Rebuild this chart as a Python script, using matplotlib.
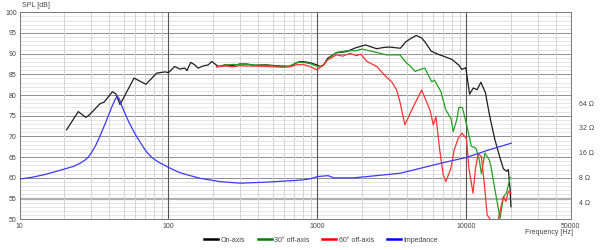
import numpy as np
import matplotlib.pyplot as plt
from matplotlib.lines import Line2D
from matplotlib.ticker import FixedLocator, NullFormatter, NullLocator

plt.rcParams['font.family'] = ['Liberation Sans', 'DejaVu Sans']

# on-axis SPL
on_f = [20.7, 24.8, 27.9, 29.4, 34.7, 37, 42, 44.3, 47.3, 58.7, 70.6, 83.3, 95, 100,
        110, 119, 129, 133, 141, 150, 158, 170, 185, 195, 216, 240, 270, 300, 335, 380,
        450, 520, 586, 650, 700, 743, 800, 890, 990, 1040, 1100, 1170, 1340, 1570, 1800,
        2100, 2490, 2800, 3030, 3600, 3900, 4200, 4600, 5000, 5300, 5800, 6500, 7000,
        8000, 8900, 9300, 9900, 10500, 11100, 11800, 12500, 13400, 14300, 15500, 16800,
        17700, 18600, 19100, 19600, 19900]
on_db = [71.6, 76.0, 74.6, 75.2, 77.9, 78.3, 80.8, 80.3, 77.7, 84.1, 82.6, 85.3, 85.6, 85.4,
         86.9, 86.3, 86.5, 85.9, 87.9, 87.3, 86.5, 87.0, 87.3, 88.1, 86.9, 87.3, 87.1, 87.5, 87.5, 87.2,
         87.3, 87.1, 87.0, 86.9, 87.5, 88.0, 88.1, 87.8, 87.3, 86.9, 87.3, 88.9, 90.2, 90.5, 91.4,
         92.1, 91.2, 91.5, 91.6, 91.3, 92.8, 93.6, 94.4, 93.8, 92.7, 90.6, 89.8, 89.4,
         88.6, 87.2, 86.2, 86.6, 80.2, 81.7, 81.3, 83.1, 80.6, 75.0, 69.3, 64.8,
         62.2, 61.6, 62.0, 57.5, 53.0]

# 30 deg off-axis
off30_f = [210, 240, 270, 300, 340, 380, 450, 520, 586, 650, 720, 800, 890, 990, 1040, 1100,
           1170, 1340, 1570, 1800, 2000, 2490, 2900, 3580, 3970, 4180, 4520, 4910, 5260,
           5840, 6100, 6740, 7270, 7860, 8150, 8600, 8900, 9390, 9720, 10000, 10790, 11070,
           11600, 12200, 12600, 13300, 14240, 14600, 15400, 16800, 17700, 18600, 19600, 19900]
off30_db = [86.8, 87.2, 87.4, 87.3, 87.4, 87.2, 87.2, 87.0, 86.9, 87.0, 87.8, 87.9, 87.6, 87.0, 86.8, 87.2,
            88.6, 90.3, 90.7, 90.7, 91.1, 90.3, 89.7, 89.7, 87.7, 87.1, 85.7, 86.2, 86.5,
            83.2, 83.6, 80.8, 76.4, 74.4, 71.2, 74.0, 77.0, 77.0, 74.8, 73.0, 67.6, 67.5,
            67.1, 64.3, 61.0, 66.0, 64.3, 62.7, 57.9, 50.2, 55.3, 56.5, 59.9, 60.0]

# 60 deg off-axis
off60_f = [210, 240, 270, 300, 340, 380, 450, 520, 586, 650, 720, 800, 890, 990, 1100, 1170,
           1340, 1480, 1650, 1830, 1950, 2150, 2500, 2800, 3150, 3400, 3580, 3860, 4400,
           5000, 5690, 5990, 6240, 6600, 6980, 7270, 7860, 8270, 8790, 9320, 10000, 10380,
           11070, 11500, 12000, 12600, 13200, 13770, 14600, 16300, 17700, 18400, 19100, 19900]
off60_db = [86.8, 87.0, 86.8, 87.1, 87.0, 87.0, 86.9, 86.8, 86.7, 86.8, 87.3, 87.4, 86.9, 86.1, 87.3, 88.5,
            89.7, 89.4, 90.1, 89.5, 89.9, 88.1, 86.9, 84.9, 83.2, 81.2, 78.3, 72.8, 77.2,
            81.2, 76.4, 72.8, 74.8, 67.0, 60.7, 59.1, 62.3, 66.7, 69.5, 70.8, 69.5, 62.3,
            56.3, 62.3, 65.9, 65.1, 58.3, 51.0, 49.8, 49.8, 55.5, 54.3, 56.7, 56.3]

# impedance in ohm
imp_f = [10, 12, 14.4, 17, 20.7, 23, 25.5, 27.5, 28.9, 30.5, 32.5, 34.6, 37, 39.5, 41.5,
         42.7, 43.7, 44.7, 45.6, 46.5, 47.5, 48.4, 50, 51.9, 54, 56, 58.5, 61, 64, 68, 72,
         77.1, 85, 100, 118, 140, 163, 222, 303, 454, 763, 900, 1000, 1180, 1285, 1745,
         2480, 3600, 7100, 10000, 14000, 20000]
imp_ohm = [7.73, 8.1, 8.67, 9.4, 10.4, 11.0, 12.0, 13.1, 14.2, 16.3, 19.8, 25.3, 33.7, 45, 56.7,
           63.7, 69.8, 74.8, 76.6, 73.1, 66.7, 60.8, 52.3, 45, 38.2, 33.7, 29.0, 25.3, 22.1, 18.6, 16.1,
           14.2, 12.5, 10.7, 9.3, 8.5, 7.9, 7.2, 6.9, 7.1, 7.5, 7.8, 8.3, 8.5, 8.0, 8.0,
           8.5, 9.1, 12.3, 14.1, 17.3, 21]

ohm_ticks = [4, 8, 16, 32, 64]
freq_ticks = [10, 100, 1000, 10000, 50000]

txt = '#444444'

fig = plt.figure(figsize=(6, 2.5), dpi=100)
ax = fig.add_axes([0.0325, 0.123, 0.9185, 0.828])

ax.set_xscale('log')
ax.set_xlim(10, 50000)
ax.set_ylim(50, 100)

# grid
for y in range(51, 100):
    if y % 5:
        ax.axhline(y, color='#e0e0e0', lw=0.6, zorder=0)
for y in range(55, 100, 5):
    ax.axhline(y, color='#8e8e8e', lw=0.7, zorder=0)
ax.axhline(55, color='#b0b0b0', lw=1.6, zorder=0)
for dec in [10, 100, 1000, 10000]:
    for m in range(2, 10):
        f = dec * m
        if f < 50000:
            ax.axvline(f, color='#d4d4d4', lw=0.7, zorder=0)
for f in [100, 1000, 10000]:
    ax.axvline(f, color='#555555', lw=0.8, zorder=0)

ax.plot(on_f, on_db, color='#1e1e1e', lw=0.9, zorder=3)
ax.plot(off30_f, off30_db, color='#22a022', lw=0.9, zorder=3)
ax.plot(off60_f, off60_db, color='#ff3232', lw=0.9, zorder=3)

ax.xaxis.set_major_locator(FixedLocator(freq_ticks))
ax.xaxis.set_minor_locator(NullLocator())
ax.set_xticklabels([str(f) for f in freq_ticks])
ax.set_yticks(range(50, 101, 5))
ax.tick_params(axis='both', length=0, labelsize=5, colors=txt, pad=3)
ax.tick_params(axis='y', pad=2)

for s in ax.spines.values():
    s.set_color('#777777')
    s.set_linewidth(0.7)

ax2 = ax.twinx()
ax2.set_yscale('log')
ax2.set_ylim(8 * 10 ** -0.5, 8 * 10 ** 2)
ax2.plot(imp_f, imp_ohm, color='#3a3aff', lw=0.9, zorder=3)
ax2.yaxis.set_major_locator(FixedLocator(ohm_ticks))
ax2.yaxis.set_minor_locator(NullLocator())
ax2.yaxis.set_minor_formatter(NullFormatter())
ax2.set_yticklabels([f'{t} Ω' for t in ohm_ticks])
ax2.tick_params(axis='y', length=0, labelsize=5, colors=txt, pad=6)
for s in ax2.spines.values():
    s.set_visible(False)

fig.text(0.037, 0.965, 'SPL [dB]', fontsize=5, color=txt, ha='left', va='bottom')
fig.text(0.955, 0.068, 'Frequency [Hz]', fontsize=5, color=txt, ha='right', va='center')

handles = [Line2D([], [], color='black', lw=1.8),
           Line2D([], [], color='#008000', lw=1.8),
           Line2D([], [], color='#ff0000', lw=1.8),
           Line2D([], [], color='#0000ff', lw=1.8)]
labels = ['On-axis', '30° off-axis', '60° off-axis', 'Impedance']
leg = fig.legend(handles, labels, loc='center', bbox_to_anchor=(0.535, 0.04), ncol=4,
                 frameon=False, fontsize=5, handlelength=2.0, handletextpad=0.4,
                 columnspacing=1.8, labelcolor=txt)

fig.savefig('out.png', dpi=100)
